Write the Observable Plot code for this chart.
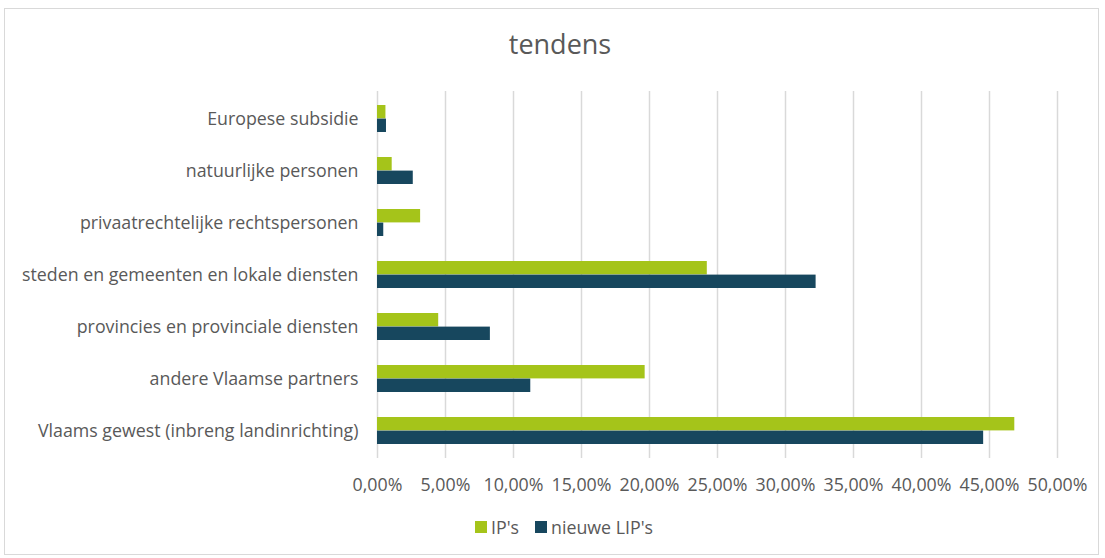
<!DOCTYPE html>
<html>
<head>
<meta charset="utf-8">
<script src="https://cdn.jsdelivr.net/npm/d3@7"></script>
<script src="https://cdn.jsdelivr.net/npm/@observablehq/plot@0.6"></script>
<style>
  html, body { margin: 0; padding: 0; background: #fff; }
  body { width: 1105px; height: 558px; position: relative; overflow: hidden; font-family: "Open Sans", Lato, sans-serif; }
  #frame { position: absolute; left: 4px; top: 8px; width: 1095px; height: 547px; border: 1px solid #d9d9d9; box-sizing: border-box; }
  #title { position: absolute; left: 0; width: 1120px; top: 25px; text-align: center; font-size: 27px; color: #595959; }
  #chart { position: absolute; left: 0; top: 0; }
  #legend { position: absolute; top: 515px; left: 0; width: 1128px; display: flex; justify-content: center; align-items: center; font-size: 17.8px; color: #595959; line-height: 24px; }
  .sw { display: inline-block; width: 12px; height: 12px; margin-right: 4px; }
  .item { display: flex; align-items: center; margin: 0 8px; }
</style>
</head>
<body>
<div id="frame"></div>
<div id="title">tendens</div>
<div id="chart"></div>
<div id="legend"></div>
<script>
const categories = [
  "Europese subsidie",
  "natuurlijke personen",
  "privaatrechtelijke rechtspersonen",
  "steden en gemeenten en lokale diensten",
  "provincies en provinciale diensten",
  "andere Vlaamse partners",
  "Vlaams gewest (inbreng landinrichting)"
];
const seriesNames = ["IP's", "nieuwe LIP's"];
const ipValues  = [0.62, 1.08, 3.17, 24.25, 4.50, 19.68, 46.86];
const lipValues = [0.66, 2.63, 0.46, 32.25, 8.30, 11.27, 44.57];
const xTicks = [0, 5, 10, 15, 20, 25, 30, 35, 40, 45, 50];
const colors = ["#a5c41a", "#17475e"];

const ipData = categories.map((c, i) => ({category: c, value: ipValues[i]}));
const lipData = categories.map((c, i) => ({category: c, value: lipValues[i]}));

const fmt = d => d.toFixed(2).replace(".", ",") + "%";

const chart = Plot.plot({
  width: 1105,
  height: 558,
  marginLeft: 377,
  marginRight: 48,
  marginTop: 91,
  marginBottom: 100,
  style: { fontFamily: "'Open Sans', Lato, sans-serif", fontSize: "17.8px", color: "#595959", background: "transparent" },
  x: { domain: [0, 50], ticks: xTicks, tickFormat: fmt, label: null, tickSize: 0, tickPadding: 20 },
  y: { domain: categories, paddingInner: 0.478, paddingOuter: 0.239, label: null, tickSize: 0, tickPadding: 19 },
  marks: [
    Plot.ruleX(xTicks, { stroke: "#d9d9d9", strokeWidth: 1.5 }),
    Plot.barX(ipData, { y: "category", x: "value", fill: colors[0], insetBottom: 13.6 }),
    Plot.barX(lipData, { y: "category", x: "value", fill: colors[1], insetTop: 13.6 })
  ]
});
document.getElementById("chart").appendChild(chart);

const legend = document.getElementById("legend");
legend.innerHTML = seriesNames.map((n, i) =>
  `<span class="item"><span class="sw" style="background:${colors[i]}"></span>${n}</span>`).join("");
</script>
</body>
</html>
